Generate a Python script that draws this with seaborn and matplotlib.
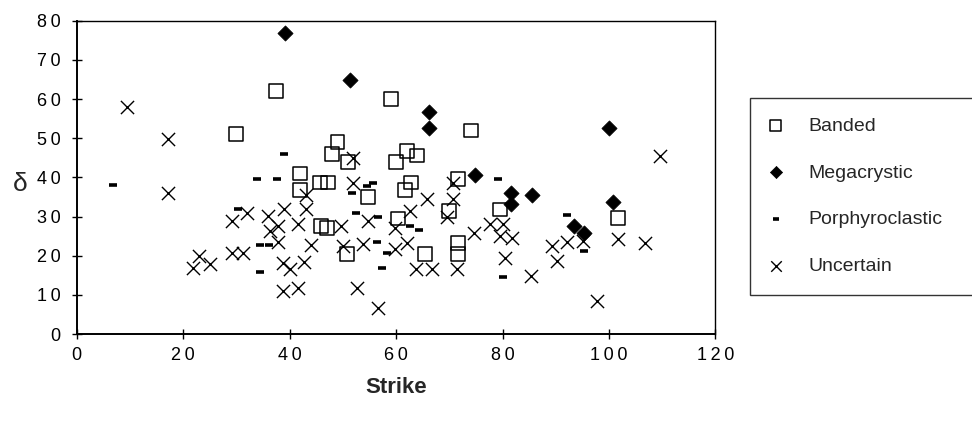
import matplotlib
matplotlib.use("Agg")
import seaborn as sns
from matplotlib import pyplot as plt
from matplotlib.ticker import FuncFormatter

# strike / delta readings per fabric type
banded_x = [30, 37.4, 59, 74, 49, 48, 51, 62, 64, 60, 42, 45.7, 47.2, 62.8, 71.6,
            42, 54.7, 61.7, 45.9, 47, 60.3, 70, 50.8, 65.4, 71.6, 71.6, 79.6, 101.7]
banded_y = [51, 62, 60, 52, 49, 46, 44, 46.7, 45.6, 44, 41, 38.7, 38.7, 38.7, 39.5,
            36.7, 35, 36.7, 27.7, 27, 29.5, 31.5, 20.5, 20.5, 23.3, 20.5, 31.8, 29.7]

mega_x = [39.2, 51.3, 66.2, 66.2, 74.8, 81.6, 81.6, 85.5, 93.4, 95.3, 100.8, 100]
mega_y = [77, 65, 56.7, 52.5, 40.5, 35.9, 33.3, 35.6, 27.7, 25.9, 33.6, 52.6]

porph_x = [6.8, 33.8, 37.6, 39, 30.3, 34.4, 36.1, 34.4, 51.7, 54.5, 55.6, 52.4,
           56.6, 62.6, 64.3, 56.4, 58.3, 57.3, 79.2, 80.1, 92.1, 95.3]
porph_y = [38, 39.7, 39.7, 46, 32, 22.8, 22.8, 15.9, 35.9, 37.7, 38.7, 30.8,
           29.8, 27.7, 26.7, 23.6, 20.8, 16.9, 39.7, 14.6, 30.3, 21.3]

unc_x = [9.4, 17.2, 17.1, 29.1, 32, 36, 38.9, 43, 43, 36.3, 37.8, 37.8, 41.5, 44,
         29.1, 31.2, 23, 21.9, 25.1, 38.7, 40, 42.7, 38.7, 41.5, 49.6, 50,
         51.9, 51.9, 65.8, 70.7, 70.7, 69.5, 54.7, 62.6, 59.8, 62, 59.8, 53.8,
         63.7, 66.7, 71.4, 74.6, 52.6, 56.6, 77.6, 80, 79.5, 81.8, 80.5, 85.3,
         89.3, 92.1, 95.1, 90.2, 97.7, 101.7, 106.8, 109.6]
unc_y = [58, 49.7, 35.9, 29, 31, 30.2, 32, 32, 35.4, 26.4, 27.7, 23.6, 28, 22.8,
         20.8, 20.8, 20, 16.9, 17.9, 18.2, 16.7, 18.5, 11, 11.8, 27.7, 22.6,
         44.9, 38.7, 34.4, 38.7, 34.4, 29.8, 29, 31.5, 27.2, 23.3, 21.8, 23,
         16.7, 16.7, 16.7, 25.8, 11.8, 6.7, 28.2, 28.2, 25.1, 24.6, 19.5, 14.9,
         22.6, 23.6, 23.8, 18.7, 8.5, 24.4, 23.3, 45.6]

sns.set_style("ticks")
plt.rcParams["font.family"] = ["Liberation Sans", "DejaVu Sans"]

fig = plt.figure(figsize=(9.72, 4.25), dpi=100)
ax = fig.add_axes([0.079, 0.214, 0.657, 0.737])

sns.scatterplot(x=banded_x, y=banded_y, ax=ax, marker="s", s=100,
                facecolor="none", edgecolor="black", linewidth=1.1, label="Banded")
sns.scatterplot(x=mega_x, y=mega_y, ax=ax, marker="D", s=60,
                color="black", edgecolor="black", linewidth=0.5, label="Megacrystic")
sns.scatterplot(x=porph_x, y=porph_y, ax=ax, marker="_", s=28,
                color="black", linewidth=2.6, label="Porphyroclastic")
sns.scatterplot(x=unc_x, y=unc_y, ax=ax, marker="x", s=90,
                color="black", linewidth=1.0, label="Uncertain")

# widely spaced digits like the original
spaced = FuncFormatter(lambda v, p: "\u2009".join(str(int(v))))

ax.set_xlim(0, 120)
ax.set_ylim(0, 80)
ax.set_xticks(range(0, 121, 20))
ax.set_yticks(range(0, 81, 10))
ax.xaxis.set_major_formatter(spaced)
ax.yaxis.set_major_formatter(spaced)
ax.tick_params(direction="inout", length=7, width=1, colors="black",
               labelsize=13, pad=8)
ax.tick_params(axis="x", pad=6)
for s in ax.spines.values():
    s.set_color("black")
    s.set_linewidth(1.0)
    s.set_visible(True)
ax.spines["left"].set_linewidth(1.4)
ax.spines["bottom"].set_linewidth(1.4)

ax.set_xlabel("Strike", fontsize=16, fontweight="bold", labelpad=9)
ax.set_ylabel("δ", fontsize=19, rotation=0)
ax.yaxis.set_label_coords(-0.088, 0.44)

# legend box runs off the right edge of the figure
leg = ax.legend(loc="upper left", bbox_to_anchor=(0.772, 0.31, 0.3, 0.46),
                bbox_transform=fig.transFigure, mode="expand", fontsize=14,
                frameon=True, fancybox=False, edgecolor="black",
                labelspacing=1.5, handlelength=0.6, handletextpad=1.4,
                borderpad=1.0, borderaxespad=0, markerscale=0.8)
leg.get_frame().set_linewidth(1.0)

fig.savefig("out.png", dpi=100)
